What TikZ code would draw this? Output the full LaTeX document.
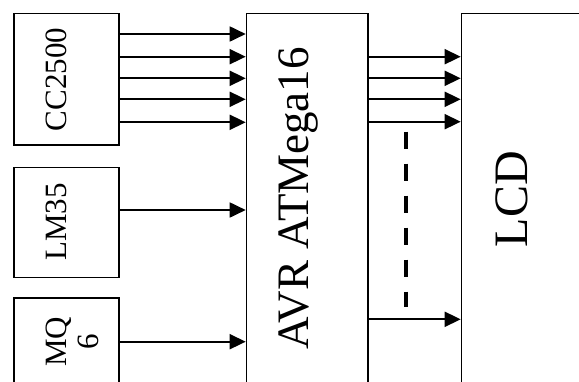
\documentclass[tikz,border=0pt]{standalone}
\usepackage{fontspec}
\setmainfont{Liberation Serif}
\usetikzlibrary{arrows.meta}
\begin{document}
\begin{tikzpicture}[x=1pt,y=-1pt,
  blk/.style={draw,line width=1.6pt,rectangle,inner sep=0pt,anchor=north west},
  arr/.style={line width=1.8pt,-{Triangle[length=16pt,width=15pt]}},
  lbl/.style={rotate=90,anchor=base,inner sep=0pt},
  dsh/.style={line width=4pt,dash pattern=on 17pt off 15pt}]
\useasboundingbox (0,0) rectangle (579,381);
\clip (0,0) rectangle (579,381);
\node[blk,minimum width=105pt,minimum height=131.5pt] (cc) at (13,12.7) {};
\node[blk,minimum width=105pt,minimum height=110pt] (lm) at (13,166.5) {};
\node[blk,minimum width=105pt,minimum height=110pt] (mq) at (13,297) {};
\node[blk,minimum width=121.3pt,minimum height=420pt] (avr) at (245.7,12.7) {};
\node[blk,minimum width=140pt,minimum height=420pt] (lcd) at (460.7,12.7) {};
\node[lbl,font=\fontsize{31}{31}\selectfont] (tcc) at (66,79.5) {CC2500};
\node[lbl,font=\fontsize{31}{31}\selectfont] (tlm) at (66,222) {LM35};
\node[lbl,font=\fontsize{31}{31}\selectfont] (tmq) at (66,342) {MQ};
\node[lbl,font=\fontsize{31}{31}\selectfont] (tmq6) at (98,342) {6};
\node[lbl,font=\fontsize{45}{45}\selectfont] (tavr) at (308,198.5) {AVR ATMega16};
\node[lbl,font=\fontsize{48}{48}\selectfont] (tlcd) at (527,199) {LCD};
\foreach \y in {34,56.7,78.3,99.3,122.3}
  \draw[arr] (cc.east |- 0,\y) -- (avr.west |- 0,\y);
\draw[arr] (lm.east |- 0,210) -- (avr.west |- 0,210);
\draw[arr] (mq.east |- 0,341.7) -- (avr.west |- 0,341.7);
\foreach \y in {56.7,78.3,99.3,121.7,319.3}
  \draw[arr] (avr.east |- 0,\y) -- (lcd.west |- 0,\y);
\coordinate (d1) at (405.7,131.7);
\coordinate (d2) at (405.7,307);
\draw[dsh] (d1) -- (d2);
\end{tikzpicture}
\end{document}
